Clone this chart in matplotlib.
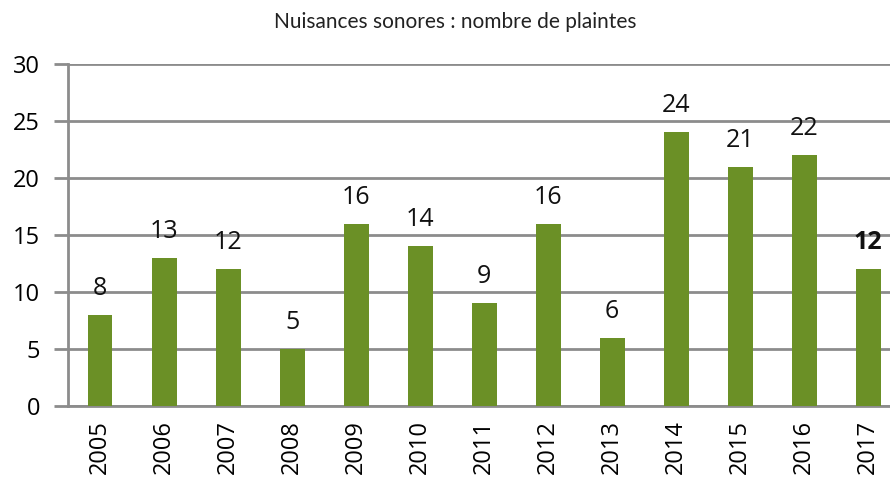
import matplotlib as mpl

mpl.use("Agg")
import matplotlib.pyplot as plt
import numpy as np

years = ["2005", "2006", "2007", "2008", "2009", "2010", "2011",
         "2012", "2013", "2014", "2015", "2016", "2017"]
plaintes = [8, 13, 12, 5, 16, 14, 9, 16, 6, 24, 21, 22, 12]

GREEN = "#6B9026"
GRID = "#8c8c8c"

W, H = 890, 484
fig = plt.figure(figsize=(W / 100, H / 100), dpi=100)
ax = fig.add_axes([68 / W, (H - 406) / H, (W - 68) / W, (406 - 64) / H])

x = np.arange(len(years))
ax.bar(x, plaintes, width=0.39, color=GREEN, zorder=3)

for i, v in enumerate(plaintes):
    last = i == len(years) - 1
    ax.text(i, v + 1.75, str(v), ha="center", va="baseline",
            fontsize=18, family="Open Sans",
            fontweight="bold" if last else "normal", color="#111111")

ax.set_xlim(-0.5, 12.34)
ax.set_ylim(0, 30)
ax.set_yticks(range(0, 31, 5))
ax.set_xticks(x)
ax.set_xticklabels(years, rotation=90, fontsize=17, family="Open Sans")
ax.tick_params(axis="x", length=0, pad=10)
ax.tick_params(axis="y", length=10, width=2, color=GRID, pad=10,
               labelsize=17)
for lab in ax.get_yticklabels():
    lab.set_family("Open Sans")

ax.grid(axis="y", color=GRID, linewidth=2, zorder=0)
for s in ("top", "right"):
    ax.spines[s].set_visible(False)
ax.spines["left"].set_color(GRID)
ax.spines["left"].set_linewidth(2)
ax.spines["bottom"].set_color(GRID)
ax.spines["bottom"].set_linewidth(2)

fig.text(455 / W, 1 - 22 / H, "Nuisances sonores : nombre de plaintes",
         ha="center", va="center", fontsize=15, family="Lato", color="#222222")

fig.savefig("out.png", dpi=100)
